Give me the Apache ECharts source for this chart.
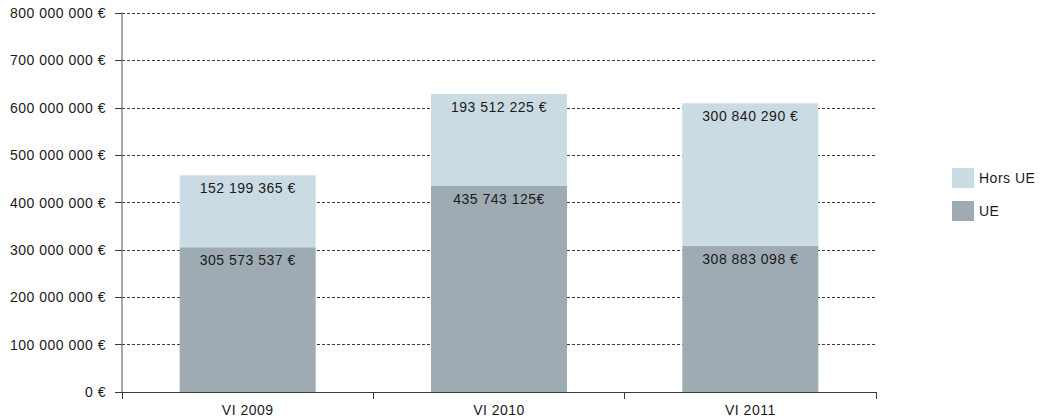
<!DOCTYPE html>
<html>
<head>
<meta charset="utf-8">
<script src="https://cdn.jsdelivr.net/npm/echarts@6/dist/echarts.min.js"></script>
<style>
  html, body { margin: 0; padding: 0; background: #fff; }
  #chart { width: 1049px; height: 420px; }
  /* slightly tracked Helvetica-like lettering */
  #chart svg text { letter-spacing: 0.5px; }
</style>
</head>
<body>
<div id="chart"></div>
<script>
// Exports by year, split between EU and non-EU destinations (in euros)
const categories = ['VI 2009', 'VI 2010', 'VI 2011'];
const valuesUE = [305573537, 435743125, 308883098];
const valuesHorsUE = [152199365, 193512225, 300840290];
// gap placed before the euro sign in each label
const euroGapUE = [' ', '', ' '];
const euroGapHorsUE = [' ', ' ', ' '];
const yTicks = [0, 100000000, 200000000, 300000000, 400000000, 500000000, 600000000, 700000000, 800000000];

const FONT = '"Liberation Sans", Arial, Helvetica, sans-serif';
const TEXT = '#1a1a1a';
const SIZE = 14;

function groupDigits(v) {
  return String(Math.round(v)).replace(/\B(?=(\d{3})+(?!\d))/g, ' ');
}

const chart = echarts.init(document.getElementById('chart'), null, { renderer: 'svg' });

chart.setOption({
  animation: false,
  backgroundColor: '#ffffff',
  textStyle: { fontFamily: FONT, color: TEXT },
  grid: { left: 122, right: 173, top: 13, bottom: 28, containLabel: false },
  legend: {
    orient: 'vertical',
    left: 952,
    top: 168,
    padding: 0,
    itemWidth: 22,
    itemHeight: 20,
    itemGap: 13,
    icon: 'rect',
    textStyle: { fontFamily: FONT, fontSize: SIZE, color: TEXT },
    data: ['Hors UE', 'UE']
  },
  xAxis: {
    type: 'category',
    data: categories,
    axisLine: { lineStyle: { color: '#3a3a3a', width: 1 } },
    axisTick: { show: true, alignWithLabel: false, length: 7, lineStyle: { color: '#3a3a3a' } },
    axisLabel: { margin: 11, fontSize: SIZE, color: TEXT, fontFamily: FONT }
  },
  yAxis: {
    type: 'value',
    min: yTicks[0],
    max: yTicks[yTicks.length - 1],
    interval: yTicks[1] - yTicks[0],
    axisLine: { show: true, lineStyle: { color: '#8a8a8a', width: 1.5 } },
    axisTick: { show: true, length: 7, lineStyle: { color: '#3a3a3a' } },
    axisLabel: {
      margin: 16,
      fontSize: SIZE,
      color: TEXT,
      fontFamily: FONT,
      formatter: v => groupDigits(v) + ' €'
    },
    splitLine: {
      show: true,
      lineStyle: { color: '#3a3a3a', type: [3, 2], width: 1 }
    }
  },
  series: [
    {
      name: 'UE',
      type: 'bar',
      stack: 'total',
      barWidth: 136,
      data: valuesUE,
      itemStyle: { color: '#9eabb3' },
      label: {
        show: true,
        position: 'insideTop',
        distance: 6,
        fontSize: SIZE,
        color: TEXT,
        fontFamily: FONT,
        formatter: p => groupDigits(p.value) + euroGapUE[p.dataIndex] + '€'
      },
      z: 3
    },
    {
      name: 'Hors UE',
      type: 'bar',
      stack: 'total',
      barWidth: 136,
      data: valuesHorsUE,
      itemStyle: { color: '#cbdbe3' },
      label: {
        show: true,
        position: 'insideTop',
        distance: 6,
        fontSize: SIZE,
        color: TEXT,
        fontFamily: FONT,
        formatter: p => groupDigits(p.value) + euroGapHorsUE[p.dataIndex] + '€'
      },
      z: 3
    }
  ]
});
</script>
</body>
</html>
